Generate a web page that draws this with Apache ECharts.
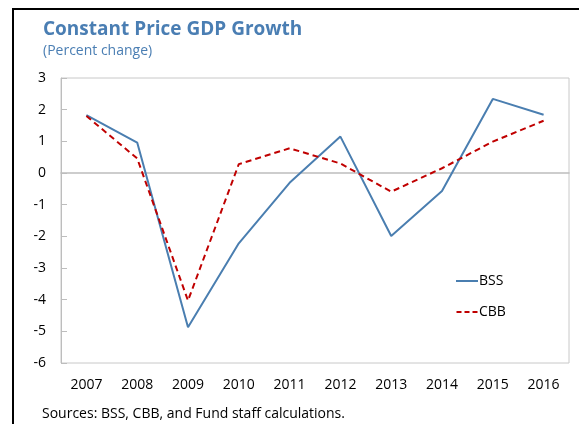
<!DOCTYPE html>
<html>
<head>
<meta charset="utf-8">
<script src="https://cdn.jsdelivr.net/npm/echarts@6/dist/echarts.min.js"></script>
<style>
  html, body { margin: 0; padding: 0; background: #fff; }
  #chart { width: 579px; height: 424px; }
</style>
</head>
<body>
<div id="chart"></div>
<script>
const years = ['2007', '2008', '2009', '2010', '2011', '2012', '2013', '2014', '2015', '2016']
const bss = [1.83, 0.96, -4.87, -2.22, -0.31, 1.15, -1.99, -0.57, 2.34, 1.84]
const cbb = [1.80, 0.46, -4.03, 0.28, 0.78, 0.30, -0.59, 0.15, 0.99, 1.65]

const font = '"Open Sans", "Noto Sans", sans-serif'
const titleBlue = '#4a7eb3'
const bssColor = '#4a7eb0'
const cbbColor = '#c00000'

const chart = echarts.init(document.getElementById('chart'))
chart.setOption({
  animation: false,
  textStyle: { fontFamily: font },
  title: {
    text: 'Constant Price GDP Growth',
    subtext: '(Percent change)',
    left: 38,
    top: 15,
    itemGap: 5,
    textStyle: { color: titleBlue, fontSize: 19, fontWeight: 'bold', fontFamily: font },
    subtextStyle: { color: titleBlue, fontSize: 14, fontFamily: font }
  },
  graphic: [{
    type: 'rect',
    shape: { x: 13, y: 9, width: 700, height: 600 },
    style: { fill: 'none', stroke: '#000', lineWidth: 2 },
    silent: true
  }, {
    type: 'text',
    left: 42,
    top: 407,
    style: { text: 'Sources: BSS, CBB, and Fund staff calculations.', fontSize: 14, fill: '#000', fontFamily: font }
  }],
  legend: {
    orient: 'vertical',
    left: 451,
    top: 269,
    itemGap: 17,
    itemWidth: 22,
    itemHeight: 14,
    textStyle: { fontSize: 14, color: '#000', padding: [0, 0, 0, -4] },
    data: [
      { name: 'BSS', icon: 'path://M0,6L22,6L22,8L0,8Z', itemStyle: { color: bssColor } },
      { name: 'CBB', icon: 'path://M0,6L5,6L5,8L0,8ZM8,6L13,6L13,8L8,8ZM16,6L21,6L21,8L16,8ZM0,0L0,0ZM0,14L0,14Z', itemStyle: { color: cbbColor } }
    ]
  },
  grid: {
    left: 61, right: 10, top: 78, bottom: 61,
    show: true, borderColor: '#c8c8c8', borderWidth: 1
  },
  xAxis: [{
    type: 'category',
    data: years,
    boundaryGap: true,
    axisLine: { onZero: true, lineStyle: { color: '#bdbdbd', width: 1.5 } },
    axisTick: { inside: true, length: 5, lineStyle: { color: '#bdbdbd' } },
    axisLabel: { show: false },
    splitLine: { show: false }
  }, {
    type: 'category',
    data: years,
    position: 'bottom',
    boundaryGap: true,
    axisLine: { show: false, onZero: false },
    axisTick: { show: false },
    axisLabel: { color: '#000', fontSize: 14, margin: 15 },
    splitLine: { show: false }
  }],
  yAxis: {
    type: 'value',
    min: -6, max: 3, interval: 1,
    axisLine: { show: true, lineStyle: { color: '#bdbdbd' } },
    axisTick: { show: true, inside: true, length: 6, lineStyle: { color: '#bdbdbd' } },
    axisLabel: { color: '#000', fontSize: 14, margin: 15 },
    splitLine: { show: false }
  },
  series: [{
    name: 'BSS',
    type: 'line',
    data: bss,
    symbol: 'none',
    lineStyle: { color: bssColor, width: 2 },
    itemStyle: { color: bssColor }
  }, {
    name: 'CBB',
    type: 'line',
    data: cbb,
    symbol: 'none',
    lineStyle: { color: cbbColor, width: 2, type: [6, 4] },
    itemStyle: { color: cbbColor }
  }]
})
</script>
</body>
</html>
